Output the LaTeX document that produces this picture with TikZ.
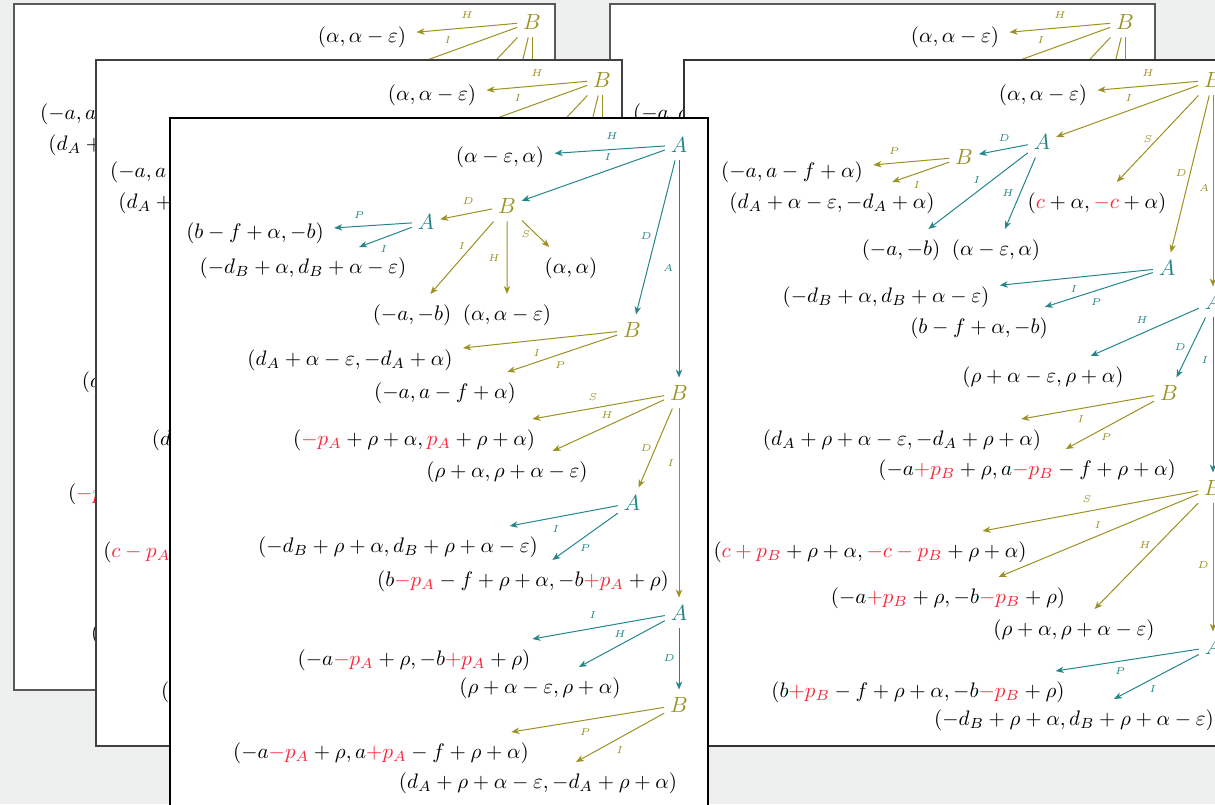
\documentclass[tikz,border=0pt]{standalone}
\usetikzlibrary{arrows.meta}
\definecolor{tealc}{RGB}{36,134,138}
\definecolor{olivec}{RGB}{156,145,34}
\definecolor{redc}{RGB}{250,38,58}
\definecolor{bgc}{RGB}{238,240,240}
\tikzset{
 pA/.style={text=tealc,font=\fontsize{10.95}{13}\selectfont,inner xsep=2pt,inner ysep=3pt,outer sep=1pt},
 pB/.style={pA,text=olivec},
 pay/.style={font=\normalsize,scale=1.05,inner sep=1pt,outer sep=4pt},
 eA/.style={draw=tealc,line width=0.5pt,-{Stealth[length=4pt,width=3.2pt,inset=1.2pt]}},
 eB/.style={eA,draw=olivec},
 lA/.style={text=tealc,font=\fontsize{5}{6}\selectfont,inner sep=0pt},
 lB/.style={lA,text=olivec},
 sheet/.style={fill=white,draw=#1,line width=0.6pt},
 sheet/.default=black,
}
\newcommand\drawRtree[8]{%
\begin{scope}[shift={(#2,#3)}]
\node[pB] (#1rB) at (0,0) {$B$};
\node[pay] (#1o1) at (-170,15) {$(\alpha,\alpha-\varepsilon)$};
\node[pA] (#1a1) at (-171,62) {$A$};
\node[pay] (#1o2) at (-116,123) {#4};
\node[pA] (#1a2) at (-46,188) {$A$};
\node[pA] (#1a3) at (0,222) {$A$};
\node[pB] (#1b1) at (-249,77) {$B$};
\node[pay] (#1o3) at (-421,92) {$(-a,a-f+\alpha)$};
\node[pay] (#1o4) at (-381,123) {$(d_A+\alpha-\varepsilon,-d_A+\alpha)$};
\node[pay] (#1o5) at (-312,170) {$(-a,-b)$};
\node[pay] (#1o6) at (-217,170) {$(\alpha-\varepsilon,\alpha)$};
\node[pay] (#1o7) at (-327,217) {$(-d_B+\alpha,d_B+\alpha-\varepsilon)$};
\node[pay] (#1o8) at (-234,248) {$(b-f+\alpha,-b)$};
\node[pay] (#1o9) at (-170,297) {$(\rho+\alpha-\varepsilon,\rho+\alpha)$};
\node[pB] (#1b2) at (-44,313) {$B$};
\node[pB] (#1b3) at (0,408) {$B$};
\node[pay] (#1o10) at (-311,360) {$(d_A+\rho+\alpha-\varepsilon,-d_A+\rho+\alpha)$};
\node[pay] (#1o11) at (-186,390) {#5};
\node[pay] (#1o12) at (-343,472) {#6};
\node[pay] (#1o13) at (-265,518) {#7};
\node[pay] (#1o14) at (-139,550) {$(\rho+\alpha,\rho+\alpha-\varepsilon)$};
\node[pA] (#1a4) at (0,567) {$A$};
\node[pay] (#1o15) at (-295,612) {#8};
\node[pay] (#1o16) at (-139,640) {$(-d_B+\rho+\alpha,d_B+\rho+\alpha-\varepsilon)$};
\draw[eB] (#1rB) -- (#1o1);
\draw[eB] (#1rB) -- (#1a1);
\draw[eB] (#1rB) -- (#1o2);
\draw[eB] (#1rB) -- (#1a2);
\draw[eB] (#1rB) -- (#1a3);
\draw[eA] (#1a1) -- (#1b1);
\draw[eA] (#1a1) -- (#1o5);
\draw[eA] (#1a1) -- (#1o6);
\draw[eB] (#1b1) -- (#1o3);
\draw[eB] (#1b1) -- (#1o4);
\draw[eA] (#1a2) -- (#1o7);
\draw[eA] (#1a2) -- (#1o8);
\draw[eA] (#1a3) -- (#1o9);
\draw[eA] (#1a3) -- (#1b2);
\draw[eA] (#1a3) -- (#1b3);
\draw[eB] (#1b2) -- (#1o10);
\draw[eB] (#1b2) -- (#1o11);
\draw[eB] (#1b3) -- (#1o12);
\draw[eB] (#1b3) -- (#1o13);
\draw[eB] (#1b3) -- (#1o14);
\draw[eB] (#1b3) -- (#1a4);
\draw[eA] (#1a4) -- (#1o15);
\draw[eA] (#1a4) -- (#1o16);
\node[lB] (#1l1) at (-65,-7) {$H$};
\node[lB] (#1l2) at (-84,18) {$I$};
\node[lB] (#1l3) at (-65,59) {$S$};
\node[lB] (#1l4) at (-32,93) {$D$};
\node[lB] (#1l5) at (-9,108) {$A$};
\node[lA] (#1l6) at (-209,58) {$D$};
\node[lA] (#1l7) at (-236,100) {$I$};
\node[lA] (#1l8) at (-205,113) {$H$};
\node[lB] (#1l9) at (-319,71) {$P$};
\node[lB] (#1l10) at (-296,105) {$I$};
\node[lA] (#1l11) at (-139,209) {$I$};
\node[lA] (#1l12) at (-117,222) {$P$};
\node[lA] (#1l13) at (-71,240) {$H$};
\node[lA] (#1l14) at (-33,267) {$D$};
\node[lA] (#1l15) at (-8,280) {$I$};
\node[lB] (#1l16) at (-132,339) {$I$};
\node[lB] (#1l17) at (-107,357) {$P$};
\node[lB] (#1l18) at (-126,419) {$S$};
\node[lB] (#1l19) at (-115,445) {$I$};
\node[lB] (#1l20) at (-68,465) {$H$};
\node[lB] (#1l21) at (-10,485) {$D$};
\node[lA] (#1l22) at (-93,591) {$P$};
\node[lA] (#1l23) at (-60,609) {$I$};
\end{scope}}
\begin{document}
\begin{tikzpicture}[x=0.5pt,y=-0.5pt]
\path[use as bounding box] (0,0) rectangle (1215,804);
\clip (0,0) rectangle (1215,804);
\fill[bgc] (0,0) rectangle (1215,804);
% back left sheet
\path[sheet=black!65] (14,4) rectangle (555,690);
\drawRtree{La}{532}{22}
 {$(\textcolor{redc}{c}+\alpha,\textcolor{redc}{-c}+\alpha)$}
 {$(-a\textcolor{redc}{-p_A}+\rho,a\textcolor{redc}{+p_A}-f+\rho+\alpha)$}
 {$(\textcolor{redc}{-p_A}+\rho+\alpha,\textcolor{redc}{p_A}+\rho+\alpha)$}
 {$(-a\textcolor{redc}{-p_A}+\rho,-b\textcolor{redc}{+p_A}+\rho)$}
 {$(b\textcolor{redc}{-p_A}-f+\rho+\alpha,-b\textcolor{redc}{+p_A}+\rho)$}
% back right sheet
\path[sheet=black!65] (610,4) rectangle (1155,690);
\drawRtree{Ra}{1125}{22}
 {$(\textcolor{redc}{c}+\alpha,\textcolor{redc}{-c}+\alpha)$}
 {$(-a\textcolor{redc}{+p_B}+\rho,a\textcolor{redc}{-p_B}-f+\rho+\alpha)$}
 {$(\textcolor{redc}{c+p_B}+\rho+\alpha,\textcolor{redc}{-c-p_B}+\rho+\alpha)$}
 {$(-a\textcolor{redc}{+p_B}+\rho,-b\textcolor{redc}{-p_B}+\rho)$}
 {$(b\textcolor{redc}{+p_B}-f+\rho+\alpha,-b\textcolor{redc}{-p_B}+\rho)$}
% middle left sheet
\path[sheet=black!75] (96,60) rectangle (622,746);
\drawRtree{Lb}{602}{80}
 {$(\textcolor{redc}{c}+\alpha,\textcolor{redc}{-c}+\alpha)$}
 {$(-a\textcolor{redc}{-p_A}+\rho,a\textcolor{redc}{+p_A}-f+\rho+\alpha)$}
 {$(\textcolor{redc}{c-p_A}+\rho+\alpha,\textcolor{redc}{-c+p_A}+\rho+\alpha)$}
 {$(-a\textcolor{redc}{-p_A}+\rho,-b\textcolor{redc}{+p_A}+\rho)$}
 {$(b\textcolor{redc}{-p_A}-f+\rho+\alpha,-b\textcolor{redc}{+p_A}+\rho)$}
% front right sheet
\path[sheet=black!80] (684,60) rectangle (1240,746);
\drawRtree{Rb}{1213}{80}
 {$(\textcolor{redc}{c}+\alpha,\textcolor{redc}{-c}+\alpha)$}
 {$(-a\textcolor{redc}{+p_B}+\rho,a\textcolor{redc}{-p_B}-f+\rho+\alpha)$}
 {$(\textcolor{redc}{c+p_B}+\rho+\alpha,\textcolor{redc}{-c-p_B}+\rho+\alpha)$}
 {$(-a\textcolor{redc}{+p_B}+\rho,-b\textcolor{redc}{-p_B}+\rho)$}
 {$(b\textcolor{redc}{+p_B}-f+\rho+\alpha,-b\textcolor{redc}{-p_B}+\rho)$}
% front left sheet
\path[sheet=black] (170,118) rectangle (708,830);
\node[pA] (A0) at (679,145) {$A$};
\node[pay] (p1) at (500,157) {$(\alpha-\varepsilon,\alpha)$};
\node[pB] (B1) at (507,206) {$B$};
\node[pB] (B2) at (632,330) {$B$};
\node[pB] (B3) at (679,393) {$B$};
\node[pA] (A1) at (426,222) {$A$};
\node[pay] (p2) at (571,268) {$(\alpha,\alpha)$};
\node[pay] (p3) at (412,315) {$(-a,-b)$};
\node[pay] (p4) at (507,315) {$(\alpha,\alpha-\varepsilon)$};
\node[pay] (p5) at (255,233) {$(b-f+\alpha,-b)$};
\node[pay] (p6) at (303,268) {$(-d_B+\alpha,d_B+\alpha-\varepsilon)$};
\node[pay] (p7) at (350,360) {$(d_A+\alpha-\varepsilon,-d_A+\alpha)$};
\node[pay] (p8) at (445,393) {$(-a,a-f+\alpha)$};
\node[pay] (p9) at (414,440) {$(\textcolor{redc}{-p_A}+\rho+\alpha,\textcolor{redc}{p_A}+\rho+\alpha)$};
\node[pay] (p10) at (507,472) {$(\rho+\alpha,\rho+\alpha-\varepsilon)$};
\node[pA] (A2) at (632,503) {$A$};
\node[pay] (p11) at (398,547) {$(-d_B+\rho+\alpha,d_B+\rho+\alpha-\varepsilon)$};
\node[pay] (p12) at (523,581) {$(b\textcolor{redc}{-p_A}-f+\rho+\alpha,-b\textcolor{redc}{+p_A}+\rho)$};
\node[pA] (A3) at (679,613) {$A$};
\node[pay] (p13) at (414,660) {$(-a\textcolor{redc}{-p_A}+\rho,-b\textcolor{redc}{+p_A}+\rho)$};
\node[pay] (p14) at (540,688) {$(\rho+\alpha-\varepsilon,\rho+\alpha)$};
\node[pB] (B4) at (679,705) {$B$};
\node[pay] (p15) at (381,753) {$(-a\textcolor{redc}{-p_A}+\rho,a\textcolor{redc}{+p_A}-f+\rho+\alpha)$};
\node[pay] (p16) at (538,783) {$(d_A+\rho+\alpha-\varepsilon,-d_A+\rho+\alpha)$};
\draw[eA] (A0) -- (p1);
\draw[eA] (A0) -- (B1);
\draw[eA] (A0) -- (B2);
\draw[eA] (A0) -- (B3);
\draw[eB] (B1) -- (A1);
\draw[eB] (B1) -- (p3);
\draw[eB] (B1) -- (p4);
\draw[eB] (B1) -- (p2);
\draw[eA] (A1) -- (p5);
\draw[eA] (A1) -- (p6);
\draw[eB] (B2) -- (p7);
\draw[eB] (B2) -- (p8);
\draw[eB] (B3) -- (p9);
\draw[eB] (B3) -- (p10);
\draw[eB] (B3) -- (A2);
\draw[eB] (B3) -- (A3);
\draw[eA] (A2) -- (p11);
\draw[eA] (A2) -- (p12);
\draw[eA] (A3) -- (p13);
\draw[eA] (A3) -- (p14);
\draw[eA] (A3) -- (B4);
\draw[eB] (B4) -- (p15);
\draw[eB] (B4) -- (p16);
\node[lA] (m1) at (612,136) {$H$};
\node[lA] (m2) at (608,157) {$I$};
\node[lA] (m3) at (646,236) {$D$};
\node[lA] (m4) at (668,268) {$A$};
\node[lB] (m5) at (468,201) {$D$};
\node[lB] (m6) at (462,246) {$I$};
\node[lB] (m7) at (494,258) {$H$};
\node[lB] (m8) at (526,234) {$S$};
\node[lA] (m9) at (359,215) {$P$};
\node[lA] (m10) at (384,249) {$I$};
\node[lB] (m11) at (537,353) {$I$};
\node[lB] (m12) at (560,365) {$P$};
\node[lB] (m13) at (593,397) {$S$};
\node[lB] (m14) at (607,415) {$H$};
\node[lB] (m15) at (646,448) {$D$};
\node[lB] (m16) at (671,463) {$I$};
\node[lA] (m17) at (556,529) {$I$};
\node[lA] (m18) at (585,548) {$P$};
\node[lA] (m19) at (593,615) {$I$};
\node[lA] (m20) at (620,634) {$H$};
\node[lA] (m21) at (669,658) {$D$};
\node[lB] (m22) at (585,732) {$P$};
\node[lB] (m23) at (620,750) {$I$};
\end{tikzpicture}
\end{document}
